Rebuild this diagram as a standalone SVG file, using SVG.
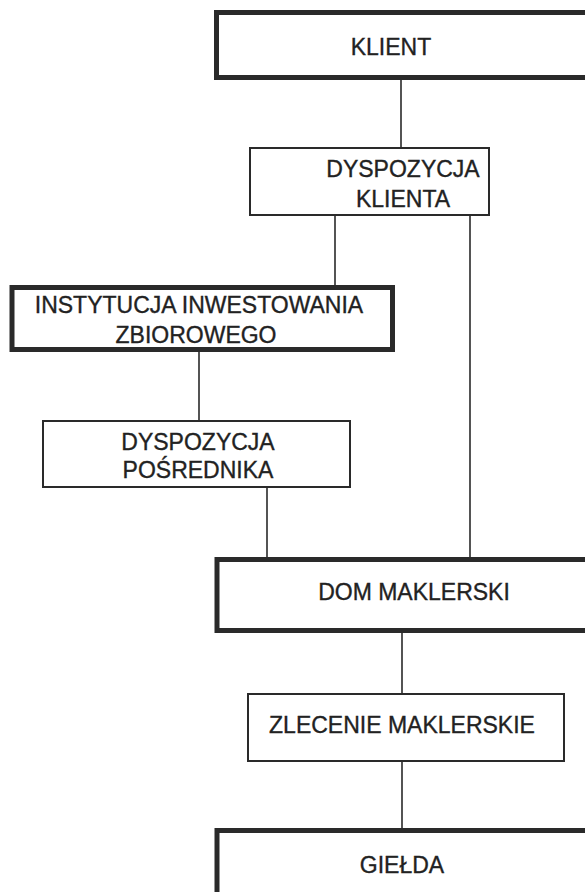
<svg xmlns="http://www.w3.org/2000/svg" width="585" height="892" viewBox="0 0 585 892">
  <style>
    .bold { fill: #fff; stroke: #2a2a2a; stroke-width: 5; }
    .thin { fill: #fff; stroke: #2a2a2a; stroke-width: 2; }
    .lbl { font-family: "Liberation Sans", Arial, sans-serif; font-size: 23px; fill: #222; stroke: #222; stroke-width: 0.35; text-anchor: middle; }
    .wire { stroke: #2a2a2a; stroke-width: 1.6; fill: none; }
  </style>
  <rect width="585" height="892" fill="#fff"/>
  <!-- connectors -->
  <g id="connectors">
    <line class="wire" x1="401" y1="78" x2="401" y2="148"/>
    <line class="wire" x1="335" y1="215" x2="335" y2="287"/>
    <line class="wire" x1="470" y1="215" x2="470" y2="559"/>
    <line class="wire" x1="199" y1="350" x2="199" y2="421"/>
    <line class="wire" x1="267" y1="487" x2="267" y2="559"/>
    <line class="wire" x1="402" y1="631" x2="402" y2="694"/>
    <line class="wire" x1="402" y1="761" x2="402" y2="830"/>
  </g>
  <g id="klient">
    <rect class="bold" x="216.5" y="12.5" width="400" height="65"/>
    <text class="lbl" x="391" y="55">KLIENT</text>
  </g>
  <g id="dyspozycja-klienta">
    <rect class="thin" x="250" y="148" width="239" height="67"/>
    <text class="lbl" x="403" y="177">DYSPOZYCJA</text>
    <text class="lbl" x="403" y="207">KLIENTA</text>
  </g>
  <g id="instytucja">
    <rect class="bold" x="12" y="287.5" width="380.5" height="62"/>
    <text class="lbl" x="199" y="313">INSTYTUCJA INWESTOWANIA</text>
    <text class="lbl" x="196" y="343">ZBIOROWEGO</text>
  </g>
  <g id="dyspozycja-posrednika">
    <rect class="thin" x="43" y="421" width="307" height="66"/>
    <text class="lbl" x="198" y="450">DYSPOZYCJA</text>
    <text class="lbl" x="198" y="478">POŚREDNIKA</text>
  </g>
  <g id="dom-maklerski">
    <rect class="bold" x="217" y="559.5" width="400" height="71"/>
    <text class="lbl" x="414" y="600">DOM MAKLERSKI</text>
  </g>
  <g id="zlecenie">
    <rect class="thin" x="248" y="694" width="316" height="67"/>
    <text class="lbl" x="402" y="733">ZLECENIE MAKLERSKIE</text>
  </g>
  <g id="gielda">
    <rect class="bold" x="217" y="830.5" width="400" height="100"/>
    <text class="lbl" x="402" y="873">GIEŁDA</text>
  </g>
</svg>
